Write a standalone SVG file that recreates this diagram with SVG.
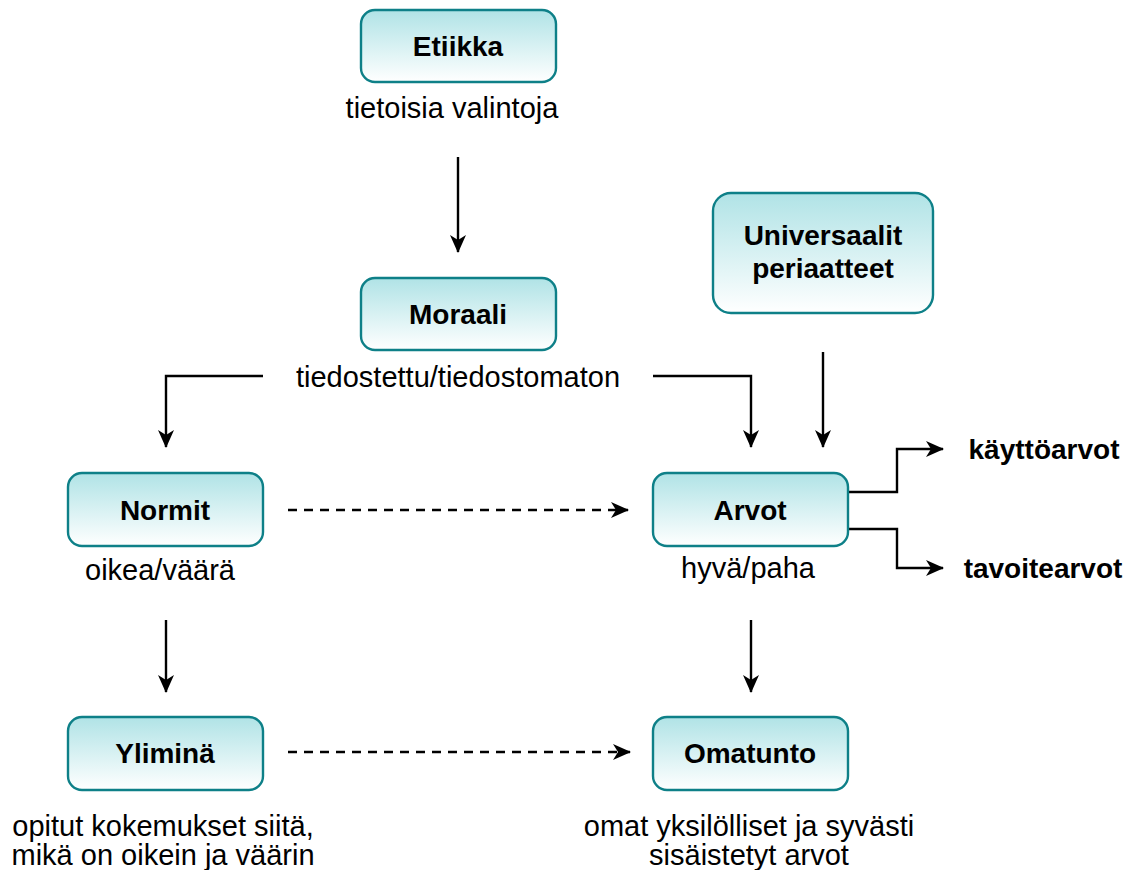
<svg xmlns="http://www.w3.org/2000/svg" width="1141" height="870" viewBox="0 0 1141 870">
<defs>
<linearGradient id="g" x1="0" y1="0" x2="0" y2="1">
<stop offset="0" stop-color="#b0e3e6"/>
<stop offset="1" stop-color="#ffffff"/>
</linearGradient>
<marker id="ar" viewBox="0 0 18 16" refX="17" refY="8" markerWidth="18" markerHeight="16" markerUnits="userSpaceOnUse" orient="auto">
<path d="M0,0 L18,8 L0,16 L5,8 Z" fill="#000"/>
</marker>
<style>
.box{fill:url(#g);stroke:#0e8088;stroke-width:2.4}
.t{font-family:"Liberation Sans",Arial,sans-serif;font-size:29px;fill:#000;text-anchor:middle}
.b{font-weight:bold;font-size:28px}
.c{fill:none;stroke:#000;stroke-width:2.4;marker-end:url(#ar)}
.d{stroke-dasharray:9 7}
</style>
</defs>
<rect width="1141" height="870" fill="#fff"/>
<g id="connectors">
<path class="c" d="M458,157 L458,252"/>
<path class="c" d="M263,376 L166,376 L166,447"/>
<path class="c" d="M653,376 L751,376 L751,447"/>
<path class="c" d="M823,352 L823,447"/>
<path class="c d" d="M288,510 L628,510"/>
<path class="c" d="M848,492 L897,492 L897,449 L943,449"/>
<path class="c" d="M848,529 L897,529 L897,568 L943,568"/>
<path class="c" d="M166,620 L166,692"/>
<path class="c" d="M751,620 L751,692"/>
<path class="c d" d="M288,752 L630,752"/>
</g>
<g id="etiikka">
<rect class="box" x="361" y="10" width="195" height="72" rx="14"/>
<text class="t b" x="458" y="56">Etiikka</text>
<text class="t" x="452" y="118">tietoisia valintoja</text>
</g>
<g id="moraali">
<rect class="box" x="361" y="278" width="195" height="72" rx="14"/>
<text class="t b" x="458" y="324">Moraali</text>
<text class="t" x="458" y="387">tiedostettu/tiedostomaton</text>
</g>
<g id="universaalit">
<rect class="box" x="713" y="193" width="220" height="120" rx="18"/>
<text class="t b" x="823" y="245">Universaalit</text>
<text class="t b" x="823" y="278">periaatteet</text>
</g>
<g id="normit">
<rect class="box" x="68" y="473" width="195" height="73" rx="14"/>
<text class="t b" x="165" y="520">Normit</text>
<text class="t" x="160" y="580">oikea/väärä</text>
</g>
<g id="arvot">
<rect class="box" x="653" y="473" width="195" height="73" rx="14"/>
<text class="t b" x="750" y="520">Arvot</text>
<text class="t" x="748" y="578">hyvä/paha</text>
</g>
<g id="kayttoarvot">
<text class="t b" x="1044" y="459">käyttöarvot</text>
</g>
<g id="tavoitearvot">
<text class="t b" x="1043" y="578">tavoitearvot</text>
</g>
<g id="ylimina">
<rect class="box" x="68" y="717" width="195" height="73" rx="14"/>
<text class="t b" x="165" y="763">Yliminä</text>
<text class="t" x="163" y="836">opitut kokemukset siitä,</text>
<text class="t" x="163" y="865">mikä on oikein ja väärin</text>
</g>
<g id="omatunto">
<rect class="box" x="653" y="717" width="195" height="73" rx="14"/>
<text class="t b" x="750" y="763">Omatunto</text>
<text class="t" x="749" y="836">omat yksilölliset ja syvästi</text>
<text class="t" x="749" y="865">sisäistetyt arvot</text>
</g>
</svg>
